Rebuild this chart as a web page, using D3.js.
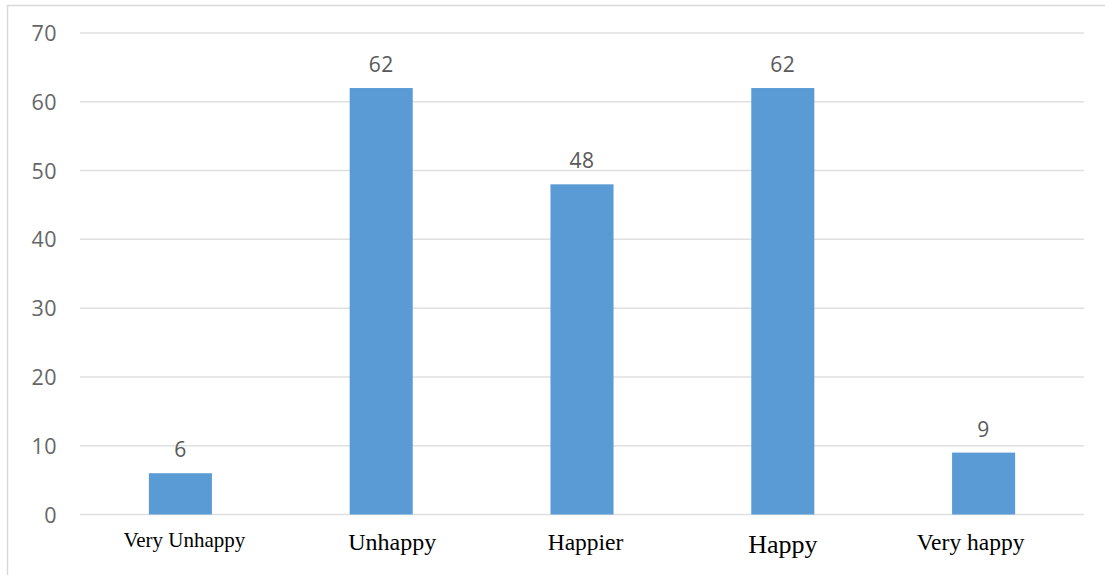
<!DOCTYPE html>
<html><head><meta charset="utf-8">
<script src="https://cdn.jsdelivr.net/npm/d3@7"></script>
<style>body{margin:0;background:#fff}svg{display:block}</style>
</head><body>
<svg id="c" width="1105" height="575"></svg>
<script>
const categories = ["Very Unhappy","Unhappy","Happier","Happy","Very happy"];
const values = [6,62,48,62,9];
const yTicks = [0,10,20,30,40,50,60,70];

// styling (not data)
const labelSizes = [21,24,23.5,26,23.5];
const labelShift = [4,11,3.5,0,-13];
const labelBase = [547,550,550,553,550];

const svg = d3.select("#c");
svg.append("rect").attr("x",7.5).attr("y",5.5).attr("width",1200).attr("height",700)
  .attr("fill","none").attr("stroke","#d9d9d9").attr("stroke-width",1.5);

const x = d3.scaleBand().domain(categories).range([80,1084]).paddingInner(0.686).paddingOuter(0.343);
const y = d3.scaleLinear().domain([0,70]).range([514.5,33]);

const g = svg.append("g");
g.selectAll("line.grid").data(yTicks).join("line")
  .attr("x1",80).attr("x2",1084).attr("y1",d=>y(d)).attr("y2",d=>y(d))
  .attr("stroke","#e0e0e0").attr("stroke-width",1.5);

const yAxis = d3.axisLeft(y).tickValues(yTicks).tickSize(0).tickPadding(0);
const ya = svg.append("g").attr("transform","translate(57,0)").call(yAxis);
ya.select(".domain").remove();
ya.selectAll("text").attr("font-family","Open Sans, sans-serif").attr("font-size",21.5)
  .attr("fill","#666").attr("dy","0.35em").attr("letter-spacing","0.5");

g.selectAll("rect.bar").data(values).join("rect")
  .attr("x",(d,i)=>x(categories[i])).attr("width",x.bandwidth())
  .attr("y",d=>y(d)).attr("height",d=>y(0)-y(d)).attr("fill","#5b9bd5");

g.selectAll("text.val").data(values).join("text")
  .attr("x",(d,i)=>x(categories[i])+x.bandwidth()/2).attr("y",d=>y(d)-16)
  .attr("text-anchor","middle").attr("font-family","Open Sans, sans-serif")
  .attr("font-size",21).attr("fill","#595959").attr("letter-spacing","0.5").text(d=>d);

const xAxis = d3.axisBottom(x).tickSize(0).tickPadding(0);
const xa = svg.append("g").call(xAxis);
xa.select(".domain").remove();
xa.selectAll("text").attr("font-family","Liberation Serif, Times New Roman, serif")
  .attr("fill","#000").attr("dy",null)
  .attr("x",(d,i)=>labelShift[i])
  .attr("y",(d,i)=>labelBase[i])
  .attr("font-size",(d,i)=>labelSizes[i]);
</script>
</body></html>
